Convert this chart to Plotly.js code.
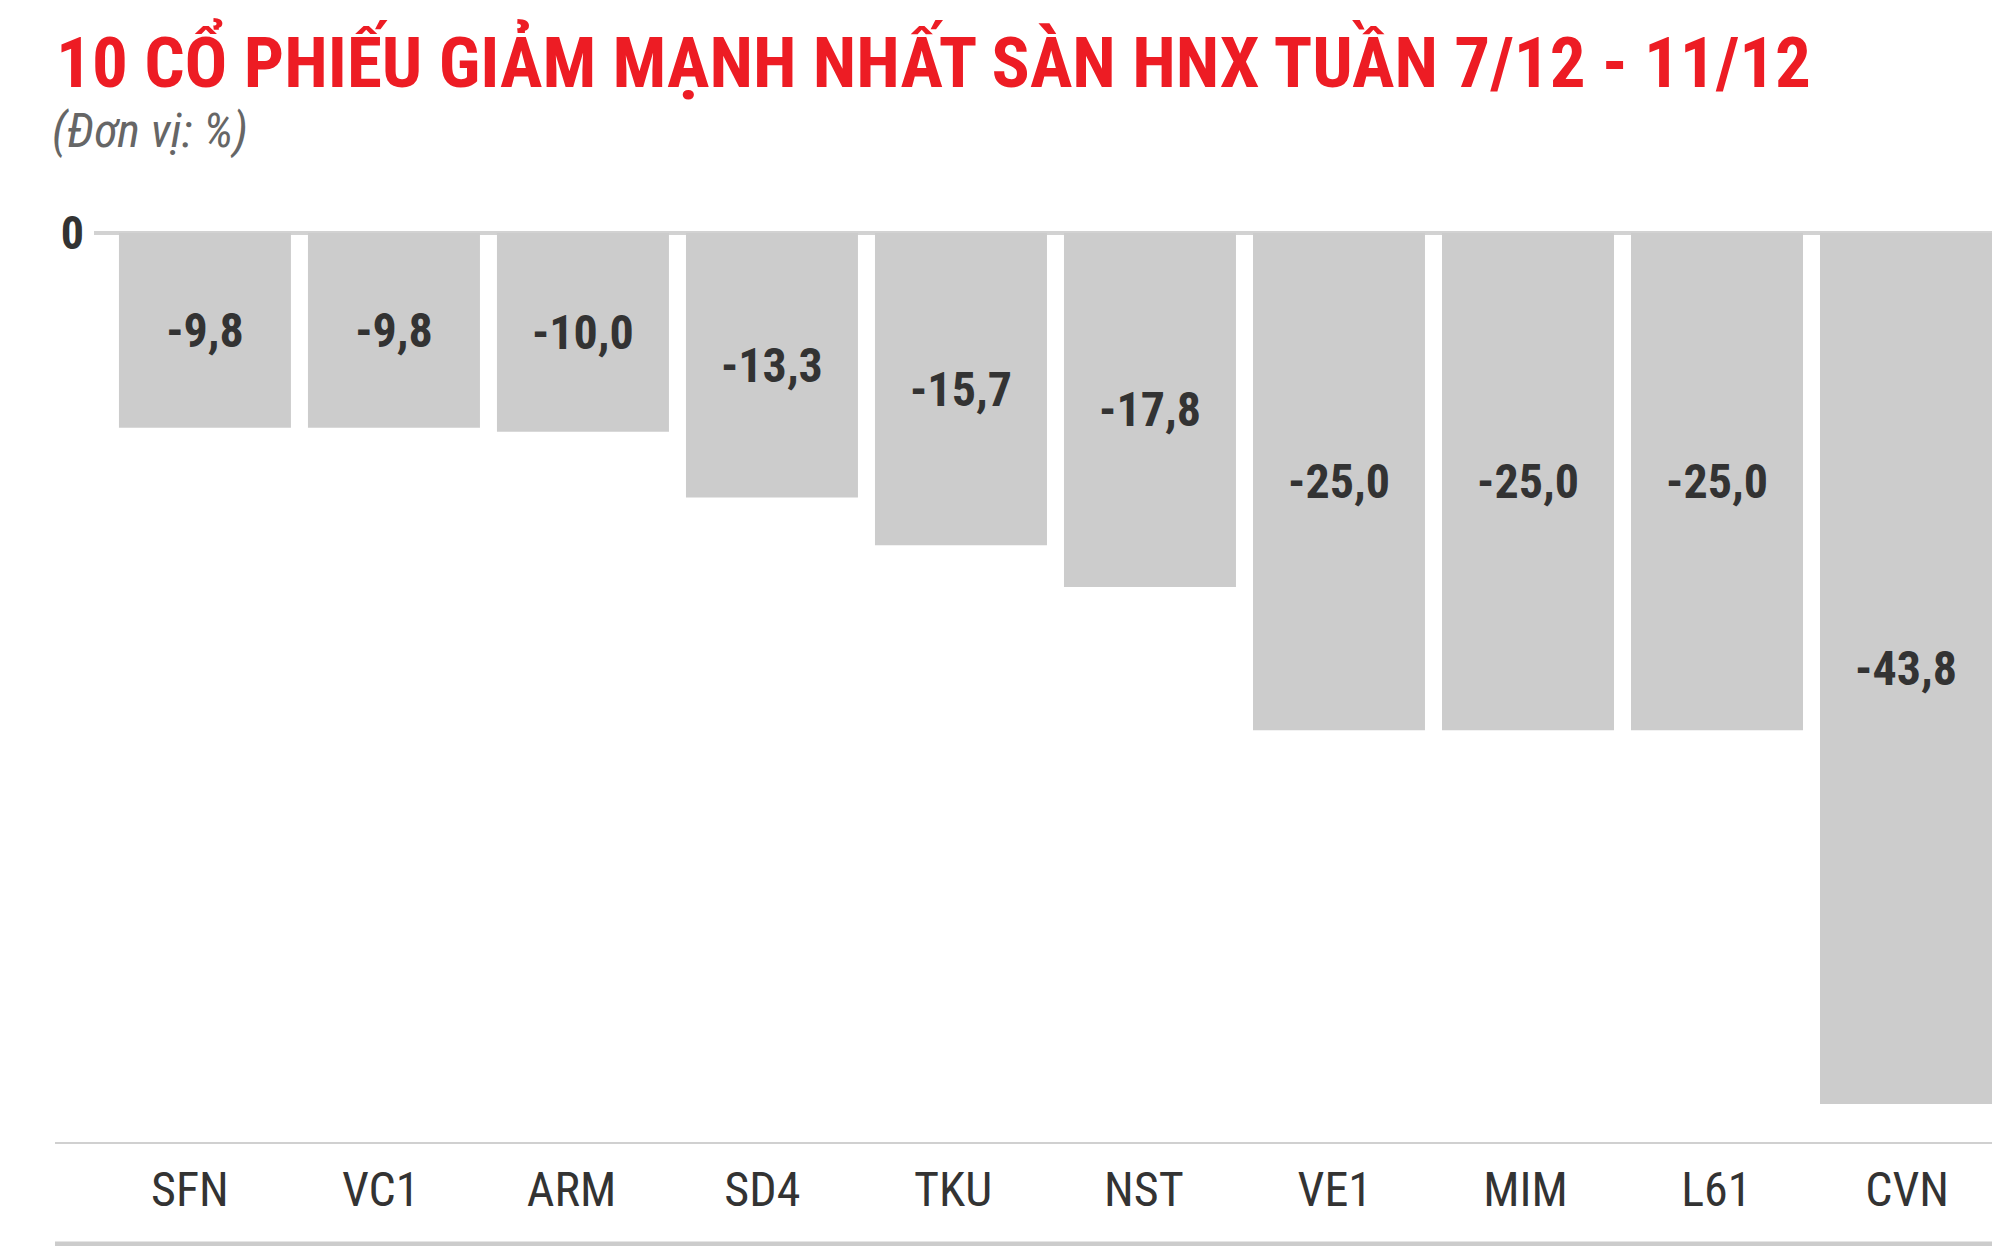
<!DOCTYPE html>
<html>
<head>
<meta charset="utf-8">
<script src="https://cdn.plot.ly/plotly-3.0.1.min.js"></script>
<style>
html,body{margin:0;padding:0;background:#fff;}
#chart{width:2000px;height:1246px;}
</style>
</head>
<body>
<div id="chart"></div>
<script>
const categories = ["SFN","VC1","ARM","SD4","TKU","NST","VE1","MIM","L61","CVN"];
const values = [-9.8,-9.8,-10.0,-13.3,-15.7,-17.8,-25.0,-25.0,-25.0,-43.8];
const titleText = "10 CỔ PHIẾU GIẢM MẠNH NHẤT SÀN HNX TUẦN 7/12 - 11/12";
const subtitleText = "(Đơn vị: %)";

const FONT = "'Roboto Condensed', 'Liberation Sans Narrow', 'DejaVu Sans Condensed', Roboto, sans-serif";

const bars = {
  type: 'bar',
  x: categories,
  y: values,
  marker: {color: '#cccccc', line: {width: 0}},
  texttemplate: '<b>%{y:.1f}</b>',
  textposition: 'inside',
  insidetextanchor: 'middle',
  textangle: 0,
  constraintext: 'none',
  textfont: {family: FONT, size: 48, color: '#333333'},
  hoverinfo: 'skip'
};

// invisible copy used only to carry the category labels on a second x axis
const labelCarrier = {
  type: 'bar',
  x: categories,
  y: values,
  xaxis: 'x2',
  marker: {color: 'rgba(0,0,0,0)'},
  hoverinfo: 'skip'
};

const TOP = 223, BOTTOM = 1143, LEFT = 94, RIGHT = 1992;
const H = BOTTOM - TOP;
function py(p){ return (BOTTOM - p) / H; }
const W = RIGHT - LEFT;
function px(p){ return (p - LEFT) / W; }

const layout = {
  width: 2000,
  height: 1246,
  margin: {l: LEFT, r: 2000 - RIGHT, t: TOP, b: 1246 - BOTTOM, pad: 0},
  paper_bgcolor: '#ffffff',
  plot_bgcolor: '#ffffff',
  separators: ',.',
  showlegend: false,
  bargap: 0.09,
  barmode: 'overlay',
  font: {family: FONT, color: '#333333'},
  xaxis: {
    type: 'category',
    range: [-0.587, 9.455],
    showgrid: false,
    zeroline: false,
    showline: false,
    ticks: '',
    showticklabels: false,
    fixedrange: true
  },
  xaxis2: {
    type: 'category',
    overlaying: 'x',
    side: 'bottom',
    range: [-0.503, 9.445],
    showgrid: false,
    zeroline: false,
    showline: false,
    ticks: '',
    tickfont: {family: FONT, size: 48, color: '#333333'},
    ticklabelstandoff: 14,
    fixedrange: true
  },
  yaxis: {
    range: [-45.76, 0.5],
    showgrid: false,
    zeroline: true,
    zerolinecolor: '#d2d2d2',
    zerolinewidth: 4,
    showline: false,
    ticks: '',
    tickvals: [0],
    ticktext: ['<b>0</b>'],
    tickfont: {family: FONT, size: 46, color: '#333333'},
    ticklabelstandoff: 9,
    fixedrange: true
  },
  shapes: [
    {type: 'line', xref: 'paper', yref: 'paper', x0: px(55), x1: px(1992), y0: py(1143), y1: py(1143),
     line: {color: '#d0d0d0', width: 2}},
    {type: 'line', xref: 'paper', yref: 'paper', x0: px(55), x1: px(1992), y0: py(1244), y1: py(1244),
     line: {color: '#cccccc', width: 5}}
  ],
  annotations: [
    {text: '<b>' + titleText + '</b>', xref: 'paper', yref: 'paper', x: px(54), y: py(61),
     xanchor: 'left', yanchor: 'middle', showarrow: false,
     font: {family: FONT, size: 71, color: '#ed1c24'}},
    {text: '<i>' + subtitleText + '</i>', xref: 'paper', yref: 'paper', x: px(50), y: py(131),
     xanchor: 'left', yanchor: 'middle', showarrow: false,
     font: {family: FONT, size: 48, color: '#666666'}}
  ]
};

Plotly.newPlot('chart', [bars, labelCarrier], layout, {displayModeBar: false, staticPlot: true});
</script>
</body>
</html>
